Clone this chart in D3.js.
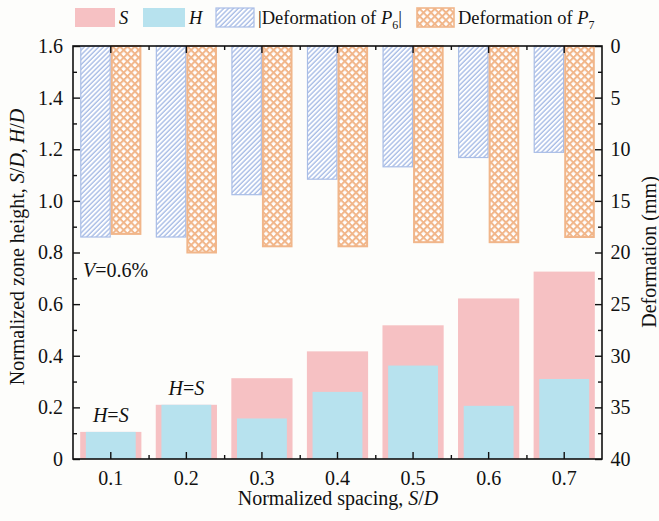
<!DOCTYPE html>
<html>
<head>
<meta charset="utf-8">
<script src="https://cdn.jsdelivr.net/npm/d3@7/dist/d3.min.js"></script>
<style>
  html, body { margin: 0; padding: 0; background: #fdfdfb; }
  svg { display: block; }
</style>
</head>
<body>
<svg id="chart" width="659" height="521"></svg>
<script>
// Normalized spacing categories
const categories = ["0.1", "0.2", "0.3", "0.4", "0.5", "0.6", "0.7"];
// Normalized zone heights (left axis)
const sValues = [0.105, 0.21, 0.313, 0.417, 0.518, 0.622, 0.726];
const hValues = [0.105, 0.21, 0.157, 0.26, 0.362, 0.206, 0.31];
// Deformations in mm (right axis, measured downward from the top)
const p6Deformation = [18.5, 18.5, 14.4, 12.9, 11.7, 10.8, 10.3];
const p7Deformation = [18.2, 20.0, 19.4, 19.4, 19.0, 19.0, 18.5];
// Tick values
const leftTicks = [0, 0.2, 0.4, 0.6, 0.8, 1.0, 1.2, 1.4, 1.6];
const rightTicks = [0, 5, 10, 15, 20, 25, 30, 35, 40];
// Categories where H equals S
const equalLabels = ["0.1", "0.2"];

const colors = {
  s: "#f6c1c3",
  h: "#b7e2ee",
  p6: "#a9bde6",
  p7: "#f1b68a"
};
const FONT = "'Liberation Serif', 'Times New Roman', serif";
const FS = 20;
const INK = "#111";

const svg = d3.select("#chart");
const plot = { left: 73, right: 602, top: 46, bottom: 459 };

const x = d3.scaleBand().domain(categories).range([plot.left, plot.right]).padding(0);
const xMinor = d3.scaleLinear().domain([0, categories.length]).range([plot.left, plot.right]);
const yLeft = d3.scaleLinear().domain([0, 1.6]).range([plot.bottom, plot.top]);
const yRight = d3.scaleLinear().domain([0, 40]).range([plot.top, plot.bottom]);

// Hatch patterns
const defs = svg.append("defs");
const diag = defs.append("pattern")
  .attr("id", "hatchP6")
  .attr("patternUnits", "userSpaceOnUse")
  .attr("width", 3.4).attr("height", 3.4)
  .attr("patternTransform", "rotate(45)");
diag.append("rect").attr("width", 3.4).attr("height", 3.4).attr("fill", "#ffffff");
diag.append("line").attr("x1", 1).attr("y1", 0).attr("x2", 1).attr("y2", 3.4)
  .attr("stroke", colors.p6).attr("stroke-width", 1.4);

const cross = defs.append("pattern")
  .attr("id", "hatchP7")
  .attr("patternUnits", "userSpaceOnUse")
  .attr("width", 5.3).attr("height", 5.3)
  .attr("patternTransform", "rotate(45)");
cross.append("rect").attr("width", 5.3).attr("height", 5.3).attr("fill", "#ffffff");
cross.append("line").attr("x1", 1).attr("y1", 0).attr("x2", 1).attr("y2", 5.3)
  .attr("stroke", colors.p7).attr("stroke-width", 2);
cross.append("line").attr("x1", 0).attr("y1", 1).attr("x2", 5.3).attr("y2", 1)
  .attr("stroke", colors.p7).attr("stroke-width", 2);

const bw = x.bandwidth();
const sWidth = bw * 0.81;
const hWidth = bw * 0.66;
const dWidth = sWidth / 2;

const rows = categories.map((c, i) => ({
  c, s: sValues[i], h: hValues[i], p6: p6Deformation[i], p7: p7Deformation[i]
}));

// S bars
svg.append("g").selectAll("rect").data(rows).join("rect")
  .attr("x", d => x(d.c) + (bw - sWidth) / 2)
  .attr("width", sWidth)
  .attr("y", d => yLeft(d.s))
  .attr("height", d => yLeft(0) - yLeft(d.s))
  .attr("fill", colors.s);

// H bars
svg.append("g").selectAll("rect").data(rows).join("rect")
  .attr("x", d => x(d.c) + (bw - hWidth) / 2)
  .attr("width", hWidth)
  .attr("y", d => yLeft(d.h))
  .attr("height", d => yLeft(0) - yLeft(d.h))
  .attr("fill", colors.h);

// Deformation of P6 (hanging bars)
svg.append("g").selectAll("rect").data(rows).join("rect")
  .attr("x", d => x(d.c) + (bw - sWidth) / 2 + 0.6)
  .attr("width", dWidth - 1.2)
  .attr("y", yRight(0))
  .attr("height", d => yRight(d.p6) - yRight(0))
  .attr("fill", "url(#hatchP6)")
  .attr("stroke", colors.p6).attr("stroke-width", 1.2);

// Deformation of P7 (hanging bars)
svg.append("g").selectAll("rect").data(rows).join("rect")
  .attr("x", d => x(d.c) + bw / 2 + 1)
  .attr("width", dWidth - 2)
  .attr("y", yRight(0))
  .attr("height", d => yRight(d.p7) - yRight(0))
  .attr("fill", "url(#hatchP7)")
  .attr("stroke", colors.p7).attr("stroke-width", 2);

// Text helper: every label carries its own font settings
function label(sel, size = FS) {
  return sel.style("font-family", FONT).attr("font-size", size).attr("fill", INK);
}

// H=S annotations
svg.append("g").selectAll("text").data(rows.filter(d => equalLabels.includes(d.c))).join("text")
  .call(label)
  .attr("x", d => x(d.c) + bw / 2)
  .attr("y", d => yLeft(d.s) - 10)
  .attr("text-anchor", "middle")
  .html('<tspan font-style="italic">H</tspan>=<tspan font-style="italic">S</tspan>');

// V annotation
svg.append("text").call(label)
  .attr("x", plot.left + 10).attr("y", 277)
  .html('<tspan font-style="italic">V</tspan>=0.6%');

// Axes
function styleAxis(g) {
  g.attr("font-family", null).attr("font-size", FS);
  g.select(".domain").remove();
  g.selectAll(".tick line").attr("stroke", INK).attr("stroke-width", 1.4);
  g.selectAll(".tick text").call(label);
}

// Left
svg.append("g").attr("transform", `translate(${plot.left},0)`)
  .call(d3.axisLeft(yLeft).tickValues(d3.range(1, 16, 2).map(v => v / 10)).tickSize(-4).tickFormat(""))
  .call(styleAxis);
svg.append("g").attr("transform", `translate(${plot.left},0)`)
  .call(d3.axisLeft(yLeft).tickValues(leftTicks).tickSize(-7).tickPadding(10)
    .tickFormat(d => d === 0 ? "0" : d3.format(".1f")(d)))
  .call(styleAxis);

// Right
svg.append("g").attr("transform", `translate(${plot.right},0)`)
  .call(d3.axisRight(yRight).tickValues(d3.range(2.5, 40, 5)).tickSize(-4).tickFormat(""))
  .call(styleAxis);
svg.append("g").attr("transform", `translate(${plot.right},0)`)
  .call(d3.axisRight(yRight).tickValues(rightTicks).tickSize(-7).tickPadding(8.5))
  .call(styleAxis);

// Bottom
svg.append("g").attr("transform", `translate(0,${plot.bottom})`)
  .call(d3.axisBottom(xMinor).tickValues(d3.range(1, categories.length)).tickSize(-4).tickFormat(""))
  .call(styleAxis);
svg.append("g").attr("transform", `translate(0,${plot.bottom})`)
  .call(d3.axisBottom(x).tickSize(-7).tickPadding(12))
  .call(styleAxis);

// Top
svg.append("g").attr("transform", `translate(0,${plot.top})`)
  .call(d3.axisTop(xMinor).tickValues(d3.range(1, categories.length)).tickSize(-4).tickFormat(""))
  .call(styleAxis);
svg.append("g").attr("transform", `translate(0,${plot.top})`)
  .call(d3.axisTop(x).tickSize(-7).tickFormat(""))
  .call(styleAxis);

// Frame
svg.append("rect")
  .attr("x", plot.left).attr("y", plot.top)
  .attr("width", plot.right - plot.left).attr("height", plot.bottom - plot.top)
  .attr("fill", "none").attr("stroke", INK).attr("stroke-width", 1.6);

// Axis titles
svg.append("text").call(label)
  .attr("transform", "translate(24,247) rotate(-90)")
  .attr("text-anchor", "middle")
  .html('Normalized zone height, <tspan font-style="italic">S</tspan>/<tspan font-style="italic">D</tspan>, <tspan font-style="italic">H</tspan>/<tspan font-style="italic">D</tspan>');

svg.append("text").call(label)
  .attr("transform", "translate(656,252) rotate(-90)")
  .attr("text-anchor", "middle")
  .text("Deformation (mm)");

svg.append("text").call(label)
  .attr("x", 338).attr("y", 505)
  .attr("text-anchor", "middle")
  .html('Normalized spacing, <tspan font-style="italic">S</tspan>/<tspan font-style="italic">D</tspan>');

// Legend
const legend = svg.append("g");
const legendItems = [
  { x: 75, w: 40, fill: colors.s, stroke: "none", sw: 0,
    text: '<tspan font-style="italic">S</tspan>' },
  { x: 143, w: 42, fill: colors.h, stroke: "none", sw: 0,
    text: '<tspan font-style="italic">H</tspan>' },
  { x: 216, w: 38, fill: "url(#hatchP6)", stroke: colors.p6, sw: 1.2,
    text: '|Deformation of <tspan font-style="italic">P</tspan><tspan font-size="12" dy="5">6</tspan><tspan dy="-5">|</tspan>' },
  { x: 417, w: 37, fill: "url(#hatchP7)", stroke: colors.p7, sw: 1.6,
    text: 'Deformation of <tspan font-style="italic">P</tspan><tspan font-size="12" dy="5">7</tspan>' }
];
legendItems.forEach(it => {
  legend.append("rect")
    .attr("x", it.x).attr("y", 8).attr("width", it.w).attr("height", 19)
    .attr("fill", it.fill).attr("stroke", it.stroke).attr("stroke-width", it.sw);
  legend.append("text").call(label, 18.5)
    .attr("x", it.x + it.w + 4).attr("y", 24)
    .html(it.text);
});
</script>
</body>
</html>
